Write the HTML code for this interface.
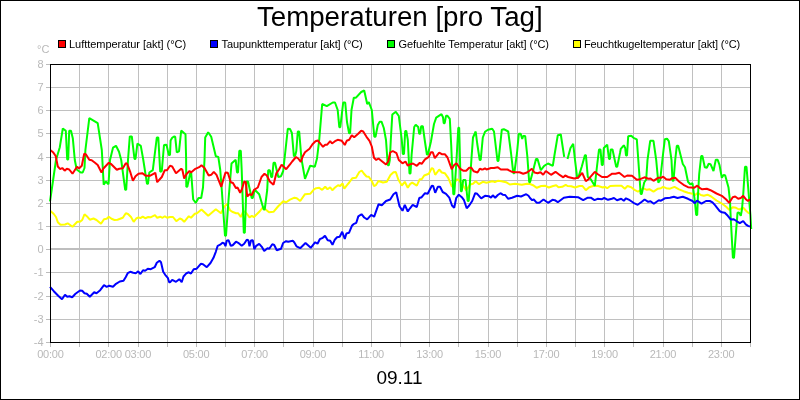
<!DOCTYPE html>
<html><head><meta charset="utf-8"><title>Temperaturen [pro Tag]</title>
<style>
html,body{margin:0;padding:0;background:#fff;}
body{width:800px;height:400px;overflow:hidden;position:relative;font-family:"Liberation Sans",sans-serif;}
svg{position:absolute;left:0;top:0;display:block;will-change:transform;}
text{font-family:"Liberation Sans",sans-serif;}
.ax{font-size:11px;fill:#b9b9b9;}
.lg{font-size:11px;fill:#000;}
</style></head><body>
<svg width="800" height="400" viewBox="0 0 800 400">
<rect x="0" y="0" width="800" height="400" fill="#fff"/>

<g stroke="#c0c0c0" stroke-width="1" shape-rendering="crispEdges"><line x1="79.5" y1="64" x2="79.5" y2="342"/><line x1="108.5" y1="64" x2="108.5" y2="342"/><line x1="138.5" y1="64" x2="138.5" y2="342"/><line x1="167.5" y1="64" x2="167.5" y2="342"/><line x1="196.5" y1="64" x2="196.5" y2="342"/><line x1="225.5" y1="64" x2="225.5" y2="342"/><line x1="254.5" y1="64" x2="254.5" y2="342"/><line x1="283.5" y1="64" x2="283.5" y2="342"/><line x1="313.5" y1="64" x2="313.5" y2="342"/><line x1="342.5" y1="64" x2="342.5" y2="342"/><line x1="371.5" y1="64" x2="371.5" y2="342"/><line x1="400.5" y1="64" x2="400.5" y2="342"/><line x1="429.5" y1="64" x2="429.5" y2="342"/><line x1="458.5" y1="64" x2="458.5" y2="342"/><line x1="488.5" y1="64" x2="488.5" y2="342"/><line x1="517.5" y1="64" x2="517.5" y2="342"/><line x1="546.5" y1="64" x2="546.5" y2="342"/><line x1="575.5" y1="64" x2="575.5" y2="342"/><line x1="604.5" y1="64" x2="604.5" y2="342"/><line x1="633.5" y1="64" x2="633.5" y2="342"/><line x1="663.5" y1="64" x2="663.5" y2="342"/><line x1="692.5" y1="64" x2="692.5" y2="342"/><line x1="721.5" y1="64" x2="721.5" y2="342"/><line x1="50" y1="87.5" x2="750" y2="87.5"/><line x1="50" y1="110.5" x2="750" y2="110.5"/><line x1="50" y1="133.5" x2="750" y2="133.5"/><line x1="50" y1="157.5" x2="750" y2="157.5"/><line x1="50" y1="180.5" x2="750" y2="180.5"/><line x1="50" y1="203.5" x2="750" y2="203.5"/><line x1="50" y1="226.5" x2="750" y2="226.5"/><line x1="50" y1="272.5" x2="750" y2="272.5"/><line x1="50" y1="296.5" x2="750" y2="296.5"/><line x1="50" y1="319.5" x2="750" y2="319.5"/></g>
<rect x="50" y="248" width="700" height="2" fill="#bebebe"/>
<g stroke="#bcbcbc" stroke-width="1" shape-rendering="crispEdges"><line x1="50.5" y1="343" x2="50.5" y2="347"/><line x1="79.5" y1="343" x2="79.5" y2="347"/><line x1="108.5" y1="343" x2="108.5" y2="347"/><line x1="138.5" y1="343" x2="138.5" y2="347"/><line x1="167.5" y1="343" x2="167.5" y2="347"/><line x1="196.5" y1="343" x2="196.5" y2="347"/><line x1="225.5" y1="343" x2="225.5" y2="347"/><line x1="254.5" y1="343" x2="254.5" y2="347"/><line x1="283.5" y1="343" x2="283.5" y2="347"/><line x1="313.5" y1="343" x2="313.5" y2="347"/><line x1="342.5" y1="343" x2="342.5" y2="347"/><line x1="371.5" y1="343" x2="371.5" y2="347"/><line x1="400.5" y1="343" x2="400.5" y2="347"/><line x1="429.5" y1="343" x2="429.5" y2="347"/><line x1="458.5" y1="343" x2="458.5" y2="347"/><line x1="488.5" y1="343" x2="488.5" y2="347"/><line x1="517.5" y1="343" x2="517.5" y2="347"/><line x1="546.5" y1="343" x2="546.5" y2="347"/><line x1="575.5" y1="343" x2="575.5" y2="347"/><line x1="604.5" y1="343" x2="604.5" y2="347"/><line x1="633.5" y1="343" x2="633.5" y2="347"/><line x1="663.5" y1="343" x2="663.5" y2="347"/><line x1="692.5" y1="343" x2="692.5" y2="347"/><line x1="721.5" y1="343" x2="721.5" y2="347"/><line x1="750.5" y1="343" x2="750.5" y2="347"/><line x1="46" y1="64.5" x2="50" y2="64.5"/><line x1="46" y1="87.5" x2="50" y2="87.5"/><line x1="46" y1="110.5" x2="50" y2="110.5"/><line x1="46" y1="133.5" x2="50" y2="133.5"/><line x1="46" y1="157.5" x2="50" y2="157.5"/><line x1="46" y1="180.5" x2="50" y2="180.5"/><line x1="46" y1="203.5" x2="50" y2="203.5"/><line x1="46" y1="226.5" x2="50" y2="226.5"/><line x1="46" y1="249.5" x2="50" y2="249.5"/><line x1="46" y1="272.5" x2="50" y2="272.5"/><line x1="46" y1="296.5" x2="50" y2="296.5"/><line x1="46" y1="319.5" x2="50" y2="319.5"/><line x1="46" y1="342.5" x2="50" y2="342.5"/></g>
<polyline points="50.5,211.0 53.8,214.0 56.0,217.0 57.8,222.2 60.5,224.8 65.0,224.5 67.7,223.3 72.5,226.8 77.3,221.8 80.0,221.8 82.2,220.0 84.5,214.3 86.8,216.2 89.8,219.7 93.5,218.5 96.5,220.0 101.0,223.8 104.0,219.2 106.7,218.8 108.8,216.7 111.5,218.8 114.5,220.0 117.5,219.7 122.8,217.8 125.8,213.2 128.0,214.0 131.0,217.0 133.7,221.8 136.2,218.5 138.5,217.3 140.4,218.2 142.7,216.7 145.2,218.2 148.2,217.0 150.5,217.3 155.0,215.2 157.2,217.8 160.2,216.7 162.5,217.8 164.8,216.2 167.0,217.8 170.0,217.0 173.0,217.0 176.3,221.2 179.8,218.5 181.7,219.2 184.2,221.8 188.8,216.2 191.0,217.8 194.8,213.7 197.0,213.2 201.5,209.5 208.2,215.8 215.8,209.2 221.0,213.2 224.0,207.2 227.0,203.8 230.0,210.2 232.2,211.8 236.0,213.2 238.2,213.2 240.8,217.0 243.5,211.0 245.8,212.5 249.5,217.3 251.8,215.8 254.0,217.0 260.0,211.0 263.0,207.2 269.0,212.2 273.5,211.8 278.0,206.5 283.2,201.2 286.2,202.3 290.0,199.6 294.5,197.7 296.8,198.3 300.2,201.0 305.0,194.2 310.2,193.8 314.0,189.3 316.2,188.2 319.2,187.8 322.2,189.8 325.2,186.8 327.5,189.3 330.2,187.2 332.3,190.2 335.0,187.5 338.0,185.2 340.2,186.0 342.5,183.3 344.3,188.7 347.0,185.2 349.2,182.5 352.2,178.3 356.0,177.7 359.3,172.0 361.7,170.5 363.8,173.5 366.5,176.5 368.8,176.8 372.2,181.8 374.0,186.2 375.8,185.2 378.5,181.0 383.0,182.5 386.8,181.8 390.5,175.0 393.5,172.3 395.8,172.0 398.3,179.5 401.8,185.5 404.8,181.8 407.8,187.8 410.0,184.2 412.2,182.7 416.8,185.7 419.8,179.2 421.7,179.2 424.2,175.5 428.8,173.7 431.8,168.0 433.2,168.8 435.2,174.8 439.2,169.5 441.8,172.5 444.8,173.2 448.2,177.8 452.0,186.8 455.0,181.5 457.2,179.2 459.5,180.8 462.5,184.5 466.2,190.5 470.0,184.5 473.0,183.8 475.7,181.2 479.0,184.2 482.8,181.8 486.5,182.7 490.2,181.8 492.5,181.2 494.8,182.2 497.8,180.8 501.5,181.2 506.0,182.2 509.8,184.5 515.0,183.8 521.8,184.8 527.0,183.8 530.0,184.0 533.0,185.2 536.8,187.8 541.2,186.0 545.0,185.7 548.8,187.5 553.2,186.0 556.2,185.2 558.5,187.2 562.2,186.8 565.7,184.8 567.5,186.0 571.2,186.3 575.0,187.5 579.5,186.0 582.5,186.0 585.8,190.2 589.2,187.2 593.0,186.0 597.5,185.7 602.8,187.5 605.0,186.8 607.2,188.2 610.2,186.0 615.5,185.7 621.5,185.7 624.8,188.7 627.5,186.0 631.2,187.2 635.0,190.2 638.0,191.7 641.8,189.3 643.0,188.2 646.8,189.8 649.8,189.3 653.5,191.7 658.0,188.7 661.0,188.2 663.2,186.8 666.2,188.2 670.0,188.7 674.5,186.8 679.0,189.3 683.5,191.2 688.0,192.8 692.5,193.8 695.2,195.0 697.8,192.8 700.8,195.0 703.8,195.8 707.5,194.7 711.2,196.5 716.5,200.5 721.8,203.5 726.2,206.8 729.2,209.8 733.0,207.2 736.0,207.8 739.0,209.5 743.5,207.8 745.8,210.5 748.3,212.8 750.0,213.5" fill="none" stroke="#ffff00" stroke-width="2" stroke-linejoin="bevel" stroke-linecap="butt"/>
<polyline points="50.0,201.5 56.0,160.0 59.8,147.2 62.8,128.5 65.8,130.8 67.2,159.5 68.2,159.5 69.2,130.8 71.0,130.8 72.8,138.2 74.8,160.0 76.7,169.5 80.7,172.5 82.7,172.5 84.5,168.0 85.4,150.0 89.3,118.1 97.7,123.2 101.8,150.0 103.7,184.8 105.8,181.5 108.5,184.2 110.0,160.0 113.0,147.7 116.0,145.8 119.0,151.8 121.2,160.0 125.2,189.8 126.2,189.8 128.0,160.0 129.8,136.4 131.8,136.4 134.5,159.0 135.5,159.0 137.4,143.5 140.8,145.8 143.3,160.0 147.0,183.8 148.0,183.8 149.3,172.5 152.8,170.2 156.8,137.5 158.3,137.5 160.2,171.8 161.8,171.0 164.0,145.0 166.5,144.8 168.8,155.0 170.0,155.0 170.6,140.5 172.2,137.8 174.0,136.5 175.2,136.8 176.8,152.3 179.0,151.3 181.2,130.5 184.0,133.0 185.5,134.3 186.1,158.0 186.3,186.8 187.3,186.8 190.2,173.2 191.2,173.2 193.2,199.5 195.8,202.8 198.5,198.0 201.2,198.0 203.0,187.5 204.5,160.0 205.2,137.5 208.2,132.2 211.2,136.8 215.8,156.3 218.3,156.9 220.2,169.5 221.8,190.0 225.0,235.8 226.0,235.8 228.5,200.0 231.5,163.5 235.7,159.8 237.0,172.5 238.0,172.5 239.3,150.7 240.8,150.7 241.7,170.0 243.8,232.8 244.8,232.8 245.8,205.0 246.4,181.5 248.0,181.5 251.7,198.0 252.7,198.0 254.8,189.8 259.2,194.2 263.7,209.5 264.7,209.5 267.2,190.0 268.2,170.2 269.8,170.2 271.2,177.0 272.2,177.0 273.5,162.8 275.0,162.8 278.3,177.0 281.0,176.2 283.2,171.0 285.5,150.0 287.8,128.8 290.0,129.0 291.9,133.0 293.9,156.3 295.3,155.3 296.3,151.0 297.8,131.5 299.2,131.5 301.4,158.5 305.0,178.8 310.2,165.7 314.8,166.8 317.0,158.5 319.2,140.0 322.2,104.0 326.8,106.2 332.8,102.5 335.0,102.5 337.7,110.0 339.3,127.2 340.3,127.2 343.2,102.5 345.2,102.5 347.0,122.0 349.1,133.2 350.1,133.2 351.5,110.0 353.8,97.7 356.0,97.7 361.2,92.0 364.2,90.5 367.2,104.0 368.8,102.2 371.8,110.0 374.3,136.7 375.5,136.7 377.8,125.0 379.7,121.7 381.5,121.7 383.8,128.0 386.0,140.0 387.8,165.2 388.8,165.2 389.8,160.0 390.8,140.0 392.3,114.5 395.8,111.8 398.8,116.0 401.8,140.0 402.8,154.0 404.0,154.0 405.2,131.0 406.3,131.0 407.8,140.0 409.5,173.5 410.5,173.5 411.6,155.0 414.2,127.0 415.7,124.8 418.2,127.0 419.2,133.8 420.2,133.8 421.2,126.2 422.8,126.2 425.0,142.0 426.9,154.5 427.9,154.5 431.0,141.2 434.0,124.0 436.2,117.7 441.5,114.2 443.0,117.2 443.7,123.2 444.7,123.2 446.0,115.8 447.5,115.8 449.8,118.8 451.2,145.0 453.3,194.2 454.3,194.2 456.5,160.0 458.3,127.8 459.2,127.8 460.8,191.2 461.8,191.2 463.2,180.0 465.5,180.0 467.7,201.0 468.7,201.0 469.7,186.0 471.5,158.0 473.0,137.5 475.7,131.5 477.2,143.5 479.7,160.0 480.7,160.0 482.8,137.5 485.0,131.8 488.0,129.7 492.2,128.8 494.0,131.5 497.5,161.0 498.5,161.0 501.8,129.7 503.8,129.2 508.2,131.5 511.0,153.0 513.3,173.2 514.3,173.2 517.0,153.0 518.8,133.8 520.7,133.8 522.2,139.0 523.2,136.0 525.2,136.0 527.3,156.0 529.2,182.2 530.0,182.2 533.0,171.0 536.0,159.0 537.5,159.0 540.8,170.2 544.2,165.8 548.0,163.5 552.8,165.8 554.5,155.0 557.8,135.2 560.8,134.5 564.2,156.8" fill="none" stroke="#00ff00" stroke-width="2" stroke-linejoin="bevel" stroke-linecap="butt"/>
<polyline points="567.5,159.0 570.5,148.0 573.2,143.8 575.0,160.0 577.2,177.8 578.2,177.8 581.8,166.5 584.9,155.2 585.9,155.2 587.8,177.0 590.8,179.2 594.8,186.0 596.8,168.0 599.0,149.5 600.5,149.5 601.8,165.0 602.8,165.0 603.8,148.0 607.2,144.7 609.0,159.0 610.0,159.0 610.7,149.5 612.5,149.5 616.2,166.8 617.2,166.8 620.0,153.0 620.8,148.8 623.8,145.3 625.2,148.0 626.0,155.5 627.0,155.5 628.2,136.3 631.2,135.7 633.5,137.8 636.8,139.3 638.3,160.0 640.7,194.0 641.7,194.0 644.2,182.5 646.2,179.5 647.5,160.0 650.2,140.8 653.5,140.8 656.2,160.0 658.3,182.7 660.2,180.0 662.7,157.0 664.8,139.3 667.0,138.7 668.8,141.2 671.5,160.0 672.5,180.8 673.5,180.8 675.2,160.0 676.8,145.8 678.2,145.8 682.8,164.0 685.0,167.2 688.0,181.8 690.2,184.2 692.5,183.3 694.8,201.0 696.2,215.0 697.2,215.0 698.0,195.0 699.2,174.0 701.2,156.0 702.4,156.0 704.8,167.2 706.8,167.7 708.7,163.8 710.5,164.2 713.5,171.0 715.8,159.8 717.7,159.8 719.5,165.0 721.8,177.8 723.7,174.8 725.2,175.5 728.5,187.5 730.0,201.0 730.8,219.5 732.9,257.8 734.0,257.8 737.5,212.8 739.0,212.5 740.8,215.8 742.0,209.0 743.2,195.0 745.0,166.8 746.5,166.8 749.2,200.2 750.4,215.0 751.2,229.0" fill="none" stroke="#00ff00" stroke-width="2" stroke-linejoin="bevel" stroke-linecap="butt"/>
<polyline points="50.0,286.8 53.8,291.2 58.2,295.8 62.0,299.2 65.0,294.7 67.2,296.8 69.5,296.2 72.2,297.2 75.5,293.8 80.0,290.5 82.2,290.8 84.5,293.2 86.8,293.8 89.8,296.8 94.2,292.3 96.5,293.2 100.2,290.2 104.0,285.2 106.7,286.8 109.2,285.7 113.0,286.8 116.0,283.8 119.8,281.5 123.5,280.8 125.8,277.0 127.7,273.2 130.2,271.8 133.2,272.8 135.8,273.2 138.2,271.3 140.4,274.0 143.0,270.2 145.2,270.7 147.8,268.8 150.8,269.2 154.7,267.2 156.8,262.8 159.5,260.8 161.0,262.3 163.2,271.8 165.2,274.8 167.8,277.8 169.2,282.2 170.0,282.4 172.2,279.8 176.0,281.8 179.3,279.2 181.7,282.2 183.5,276.5 186.5,273.2 188.8,272.3 191.0,273.5 193.7,269.3 196.7,268.7 200.8,263.8 203.0,264.2 206.8,267.2 210.5,263.0 213.5,257.8 215.8,251.8 217.7,245.8 220.2,244.7 222.5,242.8 224.3,243.5 225.5,246.2 226.7,240.8 228.5,240.2 230.8,245.8 232.7,245.3 236.0,241.7 238.2,242.8 241.7,245.8 244.2,243.8 246.8,239.8 248.3,240.2 249.5,246.2 251.0,240.5 252.8,240.2 254.3,249.2 256.2,245.8 259.2,243.8 261.8,246.8 264.2,251.0 267.5,248.3 269.3,248.8 272.3,244.2 274.2,245.0 276.8,250.2 281.0,248.8 283.1,243.0 286.1,241.2 288.2,241.8 292.8,240.8 294.2,242.2 296.5,246.3 300.2,248.2 305.5,243.0 310.8,247.8 315.2,242.2 317.5,243.8 319.8,239.2 322.8,237.8 325.0,235.8 327.7,240.3 330.2,240.8 332.5,244.8 334.8,239.7 337.0,237.3 339.7,236.7 342.2,231.8 344.8,238.9 346.4,233.5 349.1,232.7 351.9,225.8 353.5,224.2 356.3,222.8 358.3,216.4 361.5,214.2 364.2,217.5 367.2,219.3 371.2,214.8 374.1,216.8 378.5,204.3 381.8,205.2 386.0,201.0 390.2,199.5 393.5,194.2 396.2,192.3 399.5,206.2 402.5,210.8 404.8,204.8 407.8,211.5 410.0,208.3 412.7,204.8 416.8,207.0 419.3,198.0 421.7,197.2 425.0,193.2 427.7,193.8 431.8,185.7 433.2,186.0 435.2,192.8 437.8,186.8 440.0,186.8 442.7,192.0 446.0,193.8 449.3,197.7 452.0,205.5 454.2,207.8 456.2,198.0 458.8,194.7 461.8,197.2 464.0,200.2 466.7,208.2 469.2,205.5 472.2,201.0 475.2,193.2 477.2,193.8 481.2,198.3 485.0,195.8 488.8,196.2 491.0,197.7 492.8,195.3 495.2,197.7 497.8,195.0 500.4,193.2 502.7,194.7 505.2,195.0 508.2,198.8 512.0,197.7 517.2,195.8 521.0,196.5 526.2,194.2 528.5,195.8 530.0,198.0 532.2,200.2 533.8,199.5 536.8,202.8 539.3,202.8 543.5,199.5 548.0,202.8 552.5,199.8 554.8,200.2 557.8,202.2 563.8,197.7 569.8,196.8 578.0,197.2 583.2,200.2 587.8,197.7 590.8,197.7 594.5,200.2 597.5,198.8 602.0,199.2 604.2,198.0 608.0,199.8 611.8,198.8 614.0,198.0 617.0,200.2 621.2,198.8 623.8,200.7 626.0,198.3 629.8,200.2 633.5,202.8 637.7,204.8 641.8,201.8 644.6,199.5 648.2,201.8 650.5,201.3 653.8,203.7 658.8,200.2 661.0,200.7 664.8,198.3 670.0,197.7 673.8,196.8 677.5,198.0 682.8,196.8 688.0,198.8 692.5,201.0 694.8,203.2 697.0,200.7 701.5,203.7 706.0,201.0 709.8,201.0 712.5,202.4 715.0,205.2 719.5,210.8 721.8,212.3 724.8,212.8 727.8,215.8 730.8,219.5 733.8,219.2 736.8,221.3 739.8,223.2 743.2,221.0 745.8,224.3 748.0,225.8 750.0,226.7" fill="none" stroke="#0000ff" stroke-width="2" stroke-linejoin="bevel" stroke-linecap="butt"/>
<polyline points="50.6,150.3 53.0,152.2 55.7,156.0 57.8,166.5 60.2,169.2 62.3,168.0 64.7,170.7 66.8,168.8 69.2,169.5 72.5,173.7 77.0,166.8 79.2,168.3 81.8,165.8 84.2,153.8 86.0,154.5 89.3,159.8 91.7,160.2 95.0,162.8 97.7,165.0 101.5,172.5 103.2,168.8 108.8,162.8 110.8,163.8 116.8,169.8 119.3,168.8 122.8,168.3 125.8,163.2 127.2,163.8 130.2,171.8 132.9,180.8 135.5,176.2 138.5,173.7 142.2,173.2 146.0,175.8 149.8,175.8 155.3,172.8 157.2,182.2 161.8,177.0 164.8,170.2 167.0,170.2 170.0,165.8 172.2,166.5 176.0,173.2 181.2,168.8 182.3,169.5 184.2,178.5 186.5,174.0 189.5,171.0 191.0,172.5 194.8,169.2 199.2,167.2 201.5,165.3 204.5,168.0 208.7,175.5 211.2,174.8 213.8,171.8 216.5,174.8 221.3,186.8 223.2,180.0 225.5,172.5 227.8,172.8 230.8,182.2 233.0,183.0 236.0,188.2 237.5,187.5 240.2,192.8 242.0,189.0 244.2,181.5 245.8,182.2 247.2,196.5 249.5,194.2 251.8,195.0 254.0,189.8 257.8,187.5 261.5,177.0 264.5,173.7 266.8,175.5 269.8,181.5 273.5,184.8 276.3,173.4 279.0,169.5 281.6,164.6 286.2,169.2 290.0,164.4 292.2,161.5 296.0,157.0 298.2,158.5 300.8,161.8 302.8,156.2 305.0,152.2 309.5,148.8 312.5,144.2 315.5,141.2 317.8,140.5 320.8,144.2 323.0,146.8 325.2,144.7 327.2,144.7 330.2,141.2 332.0,143.5 335.0,141.2 337.7,139.8 341.8,140.8 344.8,145.0 346.7,140.8 349.2,139.8 351.8,135.2 354.2,137.2 358.2,133.8 361.2,130.8 363.2,131.5 366.5,136.8 369.5,140.8 371.8,146.5 374.0,157.8 376.2,160.0 378.5,158.5 386.0,164.5 388.2,161.5 390.2,152.5 392.8,151.0 396.5,153.2 398.8,160.0 402.5,163.3 405.5,161.5 407.8,165.7 410.0,164.4 413.0,163.5 416.8,165.8 419.8,162.8 421.7,163.8 425.0,159.3 428.8,156.8 431.0,152.2 432.8,152.2 434.8,158.2 439.2,152.7 441.8,154.2 444.8,154.2 447.5,157.5 451.7,169.2 454.2,165.0 456.5,163.2 460.2,168.8 463.2,170.7 466.2,170.7 469.2,167.7 471.2,167.7 473.8,171.3 477.5,172.5 479.8,168.8 482.0,169.5 483.5,169.2 485.0,168.3 486.5,169.5 491.0,168.0 494.0,168.0 497.8,167.2 500.8,169.5 507.5,169.5 512.0,171.8 515.0,172.2 519.5,172.2 523.2,173.7 527.0,172.5 530.0,170.2 531.8,168.8 534.5,172.5 537.5,173.2 540.5,172.2 543.2,174.8 545.8,171.0 551.0,174.8 555.5,171.8 560.0,175.2 563.3,177.3 565.2,175.5 568.2,177.0 574.2,178.5 578.0,177.8 582.2,172.8 585.8,181.2 588.5,179.2 594.8,171.8 597.5,174.0 602.0,177.0 607.2,177.0 612.2,173.7 615.5,173.7 619.2,172.8 624.5,177.0 627.2,175.5 632.0,175.8 636.8,179.7 640.2,179.2 644.5,177.3 648.2,178.8 650.5,178.5 653.5,180.8 658.0,177.8 661.0,177.8 663.2,176.7 666.2,179.2 670.0,179.7 672.2,178.2 675.2,177.8 679.0,181.5 683.5,184.8 688.0,187.2 694.0,187.8 697.3,185.7 700.0,188.2 702.2,189.3 706.8,188.7 710.5,190.2 716.5,193.5 721.8,195.8 726.2,199.5 729.2,202.8 732.7,197.2 735.2,196.5 738.2,198.8 740.8,198.0 743.2,195.8 745.8,199.2 748.0,201.0 750.0,199.2" fill="none" stroke="#ff0000" stroke-width="2" stroke-linejoin="bevel" stroke-linecap="butt"/>
<rect x="50.5" y="64.5" width="700" height="278" fill="none" stroke="#000" stroke-width="1" shape-rendering="crispEdges"/>
<text class="ax" x="43.6" y="68" text-anchor="end">8</text>
<text class="ax" x="43.6" y="91" text-anchor="end">7</text>
<text class="ax" x="43.6" y="114" text-anchor="end">6</text>
<text class="ax" x="43.6" y="137" text-anchor="end">5</text>
<text class="ax" x="43.6" y="161" text-anchor="end">4</text>
<text class="ax" x="43.6" y="184" text-anchor="end">3</text>
<text class="ax" x="43.6" y="207" text-anchor="end">2</text>
<text class="ax" x="43.6" y="230" text-anchor="end">1</text>
<text class="ax" x="43.6" y="253" text-anchor="end">0</text>
<text class="ax" x="43.6" y="276" text-anchor="end">-1</text>
<text class="ax" x="43.6" y="300" text-anchor="end">-2</text>
<text class="ax" x="43.6" y="323" text-anchor="end">-3</text>
<text class="ax" x="43.6" y="346" text-anchor="end">-4</text>
<text class="ax" x="37" y="53">°C</text>
<text class="ax" x="50.4" y="358" text-anchor="middle" letter-spacing="-0.2">00:00</text>
<text class="ax" x="108.7" y="358" text-anchor="middle" letter-spacing="-0.2">02:00</text>
<text class="ax" x="137.9" y="358" text-anchor="middle" letter-spacing="-0.2">03:00</text>
<text class="ax" x="196.2" y="358" text-anchor="middle" letter-spacing="-0.2">05:00</text>
<text class="ax" x="254.6" y="358" text-anchor="middle" letter-spacing="-0.2">07:00</text>
<text class="ax" x="312.9" y="358" text-anchor="middle" letter-spacing="-0.2">09:00</text>
<text class="ax" x="371.2" y="358" text-anchor="middle" letter-spacing="-0.2">11:00</text>
<text class="ax" x="429.6" y="358" text-anchor="middle" letter-spacing="-0.2">13:00</text>
<text class="ax" x="487.9" y="358" text-anchor="middle" letter-spacing="-0.2">15:00</text>
<text class="ax" x="546.2" y="358" text-anchor="middle" letter-spacing="-0.2">17:00</text>
<text class="ax" x="604.6" y="358" text-anchor="middle" letter-spacing="-0.2">19:00</text>
<text class="ax" x="662.9" y="358" text-anchor="middle" letter-spacing="-0.2">21:00</text>
<text class="ax" x="721.2" y="358" text-anchor="middle" letter-spacing="-0.2">23:00</text>
<rect x="58.5" y="40.5" width="7" height="7" fill="#ff0000" stroke="#000" stroke-width="1" shape-rendering="crispEdges"/>
<text class="lg" x="69" y="48" letter-spacing="-0.04">Lufttemperatur [akt] (°C)</text>
<rect x="210.5" y="40.5" width="7" height="7" fill="#0000ff" stroke="#000" stroke-width="1" shape-rendering="crispEdges"/>
<text class="lg" x="221.6" y="48" letter-spacing="-0.115">Taupunkttemperatur [akt] (°C)</text>
<rect x="387.5" y="40.5" width="7" height="7" fill="#00ff00" stroke="#000" stroke-width="1" shape-rendering="crispEdges"/>
<text class="lg" x="398.5" y="48" letter-spacing="-0.075">Gefuehlte Temperatur [akt] (°C)</text>
<rect x="573.5" y="40.5" width="7" height="7" fill="#ffff00" stroke="#000" stroke-width="1" shape-rendering="crispEdges"/>
<text class="lg" x="584" y="48" letter-spacing="-0.113">Feuchtkugeltemperatur [akt] (°C)</text>
<text x="399.8" y="26.3" text-anchor="middle" font-size="27.7px" fill="#000">Temperaturen [pro Tag]</text>
<text x="399.5" y="384" text-anchor="middle" font-size="19px" fill="#000">09.11</text>
<rect x="0.5" y="0.5" width="799" height="399" fill="none" stroke="#000" stroke-width="1" shape-rendering="crispEdges"/>
</svg></body></html>
